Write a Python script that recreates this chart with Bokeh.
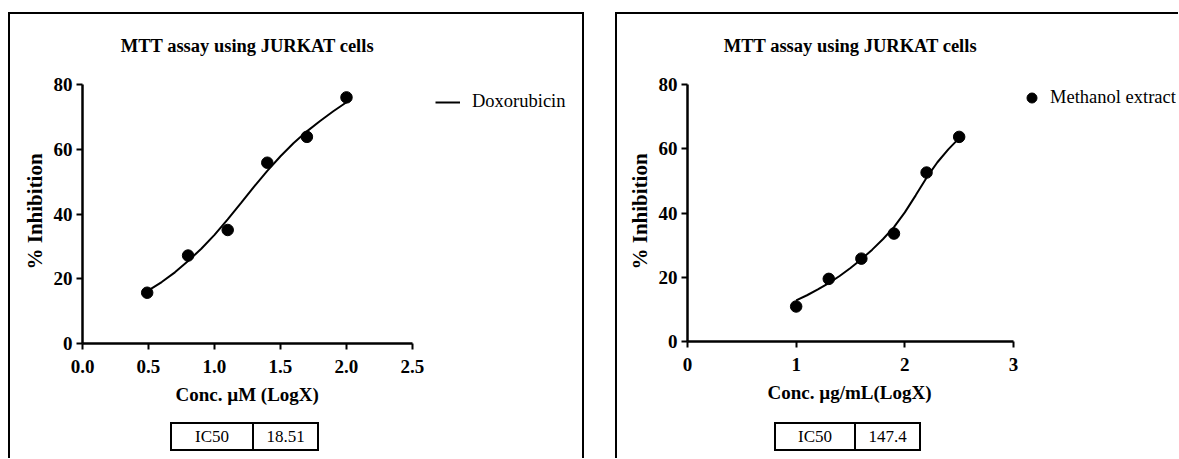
from bokeh.plotting import figure
from bokeh.layouts import row, column
from bokeh.models import Range1d, FixedTicker, Legend, LegendItem, Div, Label, Title
from bokeh.embed import file_html
from bokeh.resources import INLINE

# ---------------- data ----------------
title_text = "MTT assay using JURKAT cells"
y_label_text = "% Inhibition"
y_ticks = [0, 20, 40, 60, 80]
ic50_label = "IC50"

# Left panel: Doxorubicin
dox_name = "Doxorubicin"
dox_xlabel = "Conc. \u00b5M (LogX)"
dox_logx = [0.49, 0.80, 1.10, 1.40, 1.70, 2.00]
dox_inhib = [15.7, 27.2, 35.1, 55.9, 63.9, 76.1]
dox_fit_x = [0.50, 0.60, 0.70, 0.80, 0.90, 1.00, 1.10, 1.20, 1.30, 1.40, 1.50, 1.60, 1.70, 1.80, 1.90, 2.00]
dox_fit_y = [16.4, 19.0, 22.0, 25.5, 29.3, 33.6, 38.4, 43.4, 48.5, 53.4, 57.9, 62.0, 65.6, 68.8, 71.8, 74.6]
dox_xticks = [0, 0.5, 1.0, 1.5, 2.0, 2.5]
dox_xtick_labels = ["0.0", "0.5", "1.0", "1.5", "2.0", "2.5"]
dox_ic50 = "18.51"

# Right panel: Methanol extract
met_name = "Methanol extract"
met_xlabel = "Conc. \u00b5g/mL(LogX)"
met_logx = [1.00, 1.30, 1.60, 1.90, 2.20, 2.50]
met_inhib = [10.9, 19.5, 25.8, 33.6, 52.6, 63.7]
met_fit_x = [1.00, 1.10, 1.20, 1.30, 1.40, 1.50, 1.60, 1.70, 1.80, 1.90, 2.00, 2.10, 2.20, 2.30, 2.40, 2.50]
met_fit_y = [12.8, 14.4, 16.2, 18.2, 20.4, 22.9, 25.6, 28.6, 31.9, 35.6, 40.2, 45.5, 51.0, 55.8, 59.8, 63.3]
met_xticks = [0, 1, 2, 3]
met_xtick_labels = ["0", "1", "2", "3"]
met_ic50 = "147.4"

SERIF = "Liberation Serif"


def style_axes(p, xticks, xlabels):
    p.xgrid.visible = False
    p.ygrid.visible = False
    p.outline_line_color = None
    for ax in (p.xaxis[0], p.yaxis[0]):
        ax.axis_line_width = 2.5
        ax.axis_line_color = "black"
        ax.major_tick_line_width = 2
        ax.major_tick_line_color = "black"
        ax.major_tick_out = 6
        ax.major_tick_in = 0
        ax.minor_tick_out = 0
        ax.minor_tick_in = 0
        ax.major_label_text_font = SERIF
        ax.major_label_text_font_style = "bold"
        ax.major_label_text_font_size = "19px"
        ax.major_label_text_color = "black"
    p.xaxis[0].ticker = FixedTicker(ticks=xticks)
    p.xaxis[0].bounds = (xticks[0], xticks[-1])
    p.xaxis[0].major_label_overrides = {t: l for t, l in zip(xticks, xlabels)}
    p.xaxis[0].major_label_standoff = 10
    p.yaxis[0].ticker = FixedTicker(ticks=y_ticks)
    p.yaxis[0].bounds = (y_ticks[0], y_ticks[-1])
    p.yaxis[0].major_label_standoff = 4


def make_plot(width, x_end, y_end, mb, xs, ys, fx, fy, xticks, xlabels, xlabel, xlabel_offset,
              ylabel_offset, name, legend_is_line, legend_loc, glyph_w, glyph_h, standoff, title_y):
    p = figure(width=width, height=400, x_range=Range1d(0, x_end), y_range=Range1d(0, y_end),
               output_backend="svg", toolbar_location=None,
               min_border_left=mb[0], min_border_right=mb[1],
               min_border_top=mb[2], min_border_bottom=mb[3],
               background_fill_color=None, border_fill_color=None)
    p.title.visible = False
    style_axes(p, xticks, xlabels)
    line_r = p.line(fx, fy, line_color="black", line_width=2)
    dot_r = p.scatter(xs, ys, size=11.5, marker="circle", fill_color="black", line_color="black")

    # axis titles placed in the side panels
    p.add_layout(Title(text=xlabel, align="left", offset=xlabel_offset, standoff=12,
                       text_font=SERIF, text_font_style="bold", text_font_size="19px",
                       text_color="black"), "below")
    p.add_layout(Title(text=y_label_text, align="left", offset=ylabel_offset, standoff=7,
                       text_font=SERIF, text_font_style="bold", text_font_size="21px",
                       text_color="black"), "left")

    p.add_layout(Label(x=(xticks[0] + xticks[-1]) / 2, y=title_y, text=title_text,
                       text_align="center", text_baseline="middle", text_font=SERIF,
                       text_font_style="bold", text_font_size="18.5px", text_color="black"))

    item = LegendItem(label=name, renderers=[line_r if legend_is_line else dot_r])
    leg = Legend(items=[item], location=legend_loc, padding=0, margin=0,
                 border_line_color=None, background_fill_alpha=0,
                 label_text_font=SERIF, label_text_font_size="18.5px",
                 label_text_color="black", glyph_width=glyph_w, glyph_height=glyph_h,
                 label_standoff=standoff, label_height=20)
    p.add_layout(leg)
    return p


def make_table(width, left, w1, w2, value):
    cell = ("box-sizing:border-box;height:29px;border:2px solid black;display:flex;"
            "align-items:center;justify-content:center;")
    html = (f"<div style=\"display:flex;margin-left:{left}px;margin-top:10px;"
            f"font-family:'{SERIF}';font-size:17px;color:black;line-height:1;\">"
            f"<div style=\"{cell}width:{w1}px;\">{ic50_label}</div>"
            f"<div style=\"{cell}width:{w2}px;border-left:none;\">{value}</div></div>")
    d = Div(text=html, width=width, height=46)
    d.margin = (0, 0, 0, 0)
    return d


p1 = make_plot(576, 3.788, 101.73, (74, 2, 2, 69), dox_logx, dox_inhib, dox_fit_x, dox_fit_y,
               dox_xticks, dox_xtick_labels, dox_xlabel, 93, 74,
               dox_name, True, (353, 231), 25, 20, 12, 92.1)
d1 = make_table(576, 162, 84, 65, dox_ic50)

p2 = make_plot(563, 4.5, 101.8, (72, 2, 2, 71), met_logx, met_inhib, met_fit_x, met_fit_y,
               met_xticks, met_xtick_labels, met_xlabel, 80, 72,
               met_name, False, (332, 231.5), 25, 25, 6, 91.9)
d2 = make_table(563, 159, 82, 65, met_ic50)

c1 = column(p1, d1, spacing=0,
            styles={"box-shadow": "inset 2px 2px 0 0 black, inset -2px 0 0 0 black"})
c1.margin = (12, 0, 0, 8)
c2 = column(p2, d2, spacing=0, styles={"box-shadow": "inset 2px 2px 0 0 black"})
c2.margin = (12, 0, 0, 31)

layout = row(c1, c2, spacing=0)
open("out.html", "w").write(file_html(layout, INLINE))
